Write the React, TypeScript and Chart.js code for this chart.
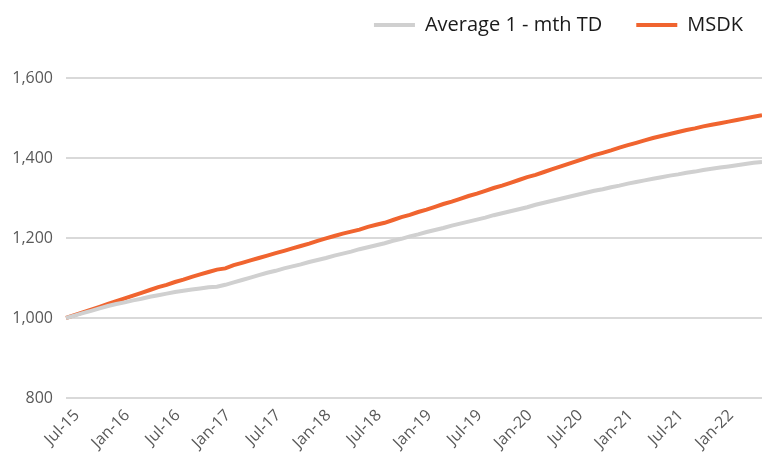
import React, { useEffect, useRef } from "react";
import { Chart, registerables } from "chart.js";

Chart.register(...registerables);

// Monthly categories Jul-15 .. Jun-22
const monthNames = ["Jan", "Feb", "Mar", "Apr", "May", "Jun", "Jul", "Aug", "Sep", "Oct", "Nov", "Dec"];
const startYear = 2015;
const startMonth = 6; // July (0-based)
const monthCount = 84;

const categories: string[] = [];
for (let i = 0; i < monthCount; i++) {
  const m = (startMonth + i) % 12;
  const y = startYear + Math.floor((startMonth + i) / 12);
  categories.push(`${monthNames[m]}-${String(y).slice(2)}`);
}

const tickLabels = [
  "Jul-15", "Jan-16", "Jul-16", "Jan-17", "Jul-17", "Jan-18", "Jul-18",
  "Jan-19", "Jul-19", "Jan-20", "Jul-20", "Jan-21", "Jul-21", "Jan-22",
];

const averageTD = [
  1000, 1006, 1012, 1018, 1024, 1030, 1035, 1039, 1044, 1048,
  1053, 1057, 1061, 1065, 1068, 1071, 1074, 1077, 1078, 1083,
  1089, 1095, 1101, 1107, 1113, 1118, 1124, 1129, 1134, 1140,
  1145, 1150, 1156, 1161, 1166, 1172, 1177, 1182, 1187, 1193,
  1198, 1204, 1209, 1215, 1220, 1225, 1231, 1236, 1241, 1246,
  1251, 1257, 1262, 1267, 1272, 1277, 1283, 1288, 1293, 1298,
  1303, 1308, 1313, 1318, 1322, 1327, 1331, 1336, 1340, 1344,
  1348, 1352, 1356, 1359, 1363, 1366, 1370, 1373, 1376, 1379,
  1382, 1385, 1388, 1390,
];

const msdk = [
  1000, 1007, 1014, 1021, 1028, 1035, 1042, 1049, 1056, 1063,
  1070, 1077, 1083, 1090, 1096, 1103, 1109, 1115, 1121, 1124,
  1132, 1138, 1144, 1150, 1156, 1162, 1168, 1174, 1180, 1186,
  1193, 1199, 1205, 1211, 1216, 1221, 1228, 1233, 1238, 1245,
  1252, 1258, 1265, 1271, 1278, 1285, 1291, 1298, 1305, 1311,
  1318, 1325, 1331, 1338, 1345, 1352, 1358, 1365, 1372, 1379,
  1386, 1393, 1400, 1407, 1413, 1419, 1426, 1432, 1438, 1444,
  1450, 1455, 1460, 1465, 1470, 1474, 1479, 1483, 1487, 1491,
  1495, 1499, 1503, 1507,
];

const yTicks = [800, 1000, 1200, 1400, 1600];

const GREY = "#d0d0d0";
const ORANGE = "#f0642f";
const FONT = "'Open Sans', 'Noto Sans', sans-serif";

export default function App() {
  const ref = useRef<HTMLCanvasElement | null>(null);

  useEffect(() => {
    if (!ref.current) return;
    const legendSpacer = {
      id: "legendSpacer",
      beforeInit(chart: any) {
        const legend = chart.legend;
        if (!legend) return;
        const origFit = legend.fit;
        legend.fit = function () {
          origFit.bind(legend)();
          legend.height += 33;
        };
      },
    };

    const chart = new Chart(ref.current, {
      type: "line",
      data: {
        labels: categories,
        datasets: [
          {
            label: "Average 1 - mth TD",
            data: averageTD,
            borderColor: GREY,
            backgroundColor: GREY,
            borderWidth: 4,
            pointRadius: 0,
            tension: 0,
          },
          {
            label: "MSDK",
            data: msdk,
            borderColor: ORANGE,
            backgroundColor: ORANGE,
            borderWidth: 4,
            pointRadius: 0,
            tension: 0,
          },
        ],
      },
      options: {
        responsive: false,
        animation: false,
        devicePixelRatio: 1,
        layout: { padding: { top: -19, right: -15, left: 0, bottom: 0 } },
        plugins: {
          tooltip: { enabled: false },
          legend: {
            position: "top",
            align: "end",
            labels: {
              boxWidth: 41,
              boxHeight: 4,
              padding: 34,
              color: "#1a1a1a",
              font: { family: FONT, size: 20 },
              generateLabels: (c: any) =>
                Chart.defaults.plugins.legend.labels
                  .generateLabels(c)
                  .map((l: any) => ({ ...l, lineWidth: 0, fillStyle: l.strokeStyle })),
            },
          },
        },
        scales: {
          x: {
            type: "category",
            offset: false,
            grid: { display: false, drawTicks: false },
            border: { display: false },
            afterFit: (s: any) => {
              s.height = 61;
              s.paddingRight = 0;
              s.paddingLeft = 0;
            },
            ticks: {
              autoSkip: false,
              maxRotation: 45,
              minRotation: 45,
              padding: 8,
              labelOffset: 11,
              color: "#595959",
              font: { family: FONT, size: 16 },
              callback: (_v: any, i: number) => {
                if (i % 6 !== 0) return "";
                return tickLabels[i / 6] ?? "";
              },
            },
          },
          y: {
            min: 800,
            max: 1600,
            afterBuildTicks: (s: any) => {
              s.ticks = yTicks.map((v) => ({ value: v }));
            },
            afterFit: (s: any) => {
              s.width = 66;
            },
            grid: { color: "#d9d9d9", lineWidth: 2, drawTicks: false },
            border: { display: false },
            ticks: {
              padding: 13,
              color: "#595959",
              font: { family: FONT, size: 16 },
              callback: (v: any) => Number(v).toLocaleString("en-US"),
            },
          },
        },
      },
      plugins: [legendSpacer],
    } as any);
    return () => chart.destroy();
  }, []);

  return (
    <div style={{ position: "fixed", left: 0, top: 0, width: 762, height: 459, background: "#fff" }}>
      <canvas ref={ref} width={762} height={459} />
    </div>
  );
}
